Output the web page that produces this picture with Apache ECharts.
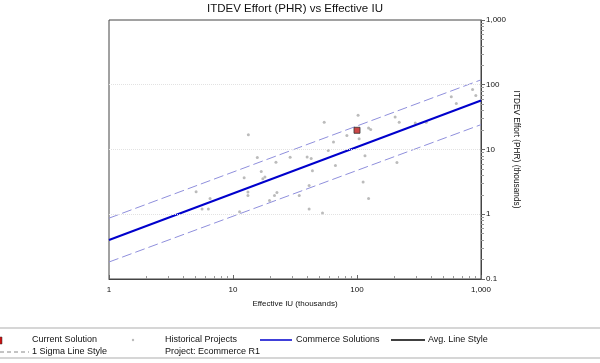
<!DOCTYPE html>
<html><head><meta charset="utf-8">
<script src="https://cdn.jsdelivr.net/npm/echarts@6/dist/echarts.min.js"></script>
<style>html,body{margin:0;padding:0;background:#fff}#c{width:600px;height:363px}</style>
</head><body><div id="c"></div>
<script>
const chartTitle = 'ITDEV Effort (PHR) vs Effective IU';
const xName = 'Effective IU (thousands)';
const yName = 'ITDEV Effort (PHR) (thousands)';
const xMajorTicks = [1, 10, 100, 1000];
const yMajorTicks = [0.1, 1, 10, 100, 1000];
const xMinorTicks = [2,3,4,5,6,7,8,9,20,30,40,50,60,70,80,90,200,300,400,500,600,700,800,900];
const yMinorTicks = [0.2,0.3,0.4,0.5,0.6,0.7,0.8,0.9,2,3,4,5,6,7,8,9,20,30,40,50,60,70,80,90,200,300,400,500,600,700,800,900];

const historicalIU = [5.04,5.63,6.33,6.53,11.3,12.3,13.2,13.2,13.3,15.7,16.9,17.4,18.1,19.7,21.6,22.6,22.2,28.9,34.2,39.6,42.7,41.1,41.1,43.7,52.7,54.4,58.6,64.6,67.0,82.9,102,104,112,116,124,124,129,203,219,210,295,362,576,632,855,908];
const historicalEffort = [2.22,1.20,1.20,1.75,1.09,3.66,2.20,1.95,16.9,7.55,4.58,3.53,3.75,1.63,1.95,2.17,6.36,7.6,1.95,7.65,7.26,2.78,1.20,4.70,1.05,26.3,9.68,13.1,5.68,16.5,33.7,14.7,3.14,8.02,1.75,21.5,20.3,31.8,26.3,6.31,25.7,26.3,65.0,51.2,84.3,68.1];
const currentIU = [100];
const currentEffort = [19.8];
const lineIU = [1, 1000];
const avgEffort = [0.40, 57];
const upperSigmaEffort = [0.87, 119];
const lowerSigmaEffort = [0.183, 24.2];

const legendRow1 = ['Current Solution', 'Historical Projects', 'Commerce Solutions', 'Avg. Line Style'];
const legendRow2 = ['1 Sigma Line Style', 'Project: Ecommerce R1'];

const pairs = (xs, ys) => xs.map((x, i) => [x, ys[i]]);
const fmt = v => Number(v).toLocaleString('en-US');
const FONT = '"Liberation Sans", Arial, sans-serif';
const SIGMA = '#8f8fdc';

const chart = echarts.init(document.getElementById('c'), null, {renderer: 'canvas'});
const axisLineStyle = {color: '#444', width: 1};
chart.setOption({
  animation: false,
  title: {text: chartTitle, left: 207, top: 3, padding: 0,
    textStyle: {fontFamily: FONT, fontSize: 11.5, fontWeight: 'normal', color: '#111'}},
  grid: {left: 109, right: 119, top: 20, bottom: 84, show: true, borderColor: '#444', borderWidth: 1, backgroundColor: 'transparent'},
  xAxis: [
    {type: 'log', min: 1, max: 1000, logBase: 10, name: xName, nameLocation: 'middle', nameGap: 21,
     nameTextStyle: {fontFamily: FONT, fontSize: 8, color: '#111'},
     axisLine: {lineStyle: axisLineStyle},
     axisTick: {show: true, inside: true, length: 4, lineStyle: {color: '#666'}, customValues: xMajorTicks},
     axisLabel: {fontFamily: FONT, fontSize: 8, color: '#111', margin: 7, formatter: fmt, customValues: xMajorTicks},
     splitLine: {show: false}},
    {type: 'log', min: 1, max: 1000, logBase: 10, position: 'bottom',
     axisLine: {show: false},
     axisTick: {show: true, inside: true, length: 3, lineStyle: {color: '#999'}, customValues: xMinorTicks},
     axisLabel: {show: false}, splitLine: {show: false}}
  ],
  yAxis: [
    {type: 'log', min: 0.1, max: 1000, logBase: 10, position: 'right', name: yName, nameLocation: 'middle',
     nameGap: 31, nameRotate: -90, nameMoveOverlap: false,
     nameTextStyle: {fontFamily: FONT, fontSize: 8.3, color: '#111'},
     axisLine: {show: true, lineStyle: axisLineStyle},
     axisTick: {show: true, inside: false, length: 4, lineStyle: {color: '#666'}, customValues: yMajorTicks},
     axisLabel: {fontFamily: FONT, fontSize: 8, color: '#111', margin: 5, formatter: fmt, customValues: yMajorTicks},
     splitLine: {show: false}},
    {type: 'log', min: 0.1, max: 1000, logBase: 10, position: 'right',
     axisLine: {show: false},
     axisTick: {show: true, inside: false, length: 3, lineStyle: {color: '#999'}, customValues: yMinorTicks},
     axisLabel: {show: false}, splitLine: {show: false}}
  ],
  series: [
    {name: 'Grid', type: 'line', data: [], markLine: {silent: true, symbol: 'none', label: {show: false},
      lineStyle: {color: '#e2e2e2', type: 'dotted', width: 1},
      data: yMajorTicks.slice(1, 4).map(v => ({yAxis: v}))}},
    {name: 'Historical Projects', type: 'scatter', data: pairs(historicalIU, historicalEffort),
     symbol: 'circle', symbolSize: 3, itemStyle: {color: '#aaaaaa'}, z: 3},
    {name: '1 Sigma Upper', type: 'line', data: pairs(lineIU, upperSigmaEffort), symbol: 'none',
     lineStyle: {color: SIGMA, width: 1, type: [10, 4]}, z: 2},
    {name: '1 Sigma Lower', type: 'line', data: pairs(lineIU, lowerSigmaEffort), symbol: 'none',
     lineStyle: {color: SIGMA, width: 1, type: [10, 4]}, z: 2},
    {name: 'Commerce Solutions', type: 'line', data: pairs(lineIU, avgEffort), symbol: 'none',
     lineStyle: {color: '#0000cc', width: 2}, z: 4},
    {name: 'Current Solution', type: 'scatter', data: pairs(currentIU, currentEffort),
     symbol: 'rect', symbolSize: 6, itemStyle: {color: '#c01818', borderColor: '#333', borderWidth: 1}, z: 5}
  ],
  graphic: [
    {type: 'line', shape: {x1: 0, y1: 328, x2: 600, y2: 328}, style: {stroke: '#c8c8c8', lineWidth: 1.5}},
    {type: 'line', shape: {x1: 0, y1: 358, x2: 600, y2: 358}, style: {stroke: '#c8c8c8', lineWidth: 1.5}},
    {type: 'rect', shape: {x: -5, y: 337, width: 7, height: 7}, style: {fill: '#cc1111', stroke: '#333', lineWidth: 0.5}},
    {type: 'text', x: 32, y: 340, style: {text: legendRow1[0], font: '9px ' + FONT, fill: '#111', textVerticalAlign: 'middle'}},
    {type: 'circle', shape: {cx: 133, cy: 340, r: 1.2}, style: {fill: '#bbb'}},
    {type: 'text', x: 165, y: 340, style: {text: legendRow1[1], font: '9px ' + FONT, fill: '#111', textVerticalAlign: 'middle'}},
    {type: 'line', shape: {x1: 260, y1: 340, x2: 292, y2: 340}, style: {stroke: '#0000cc', lineWidth: 1.5}},
    {type: 'text', x: 296, y: 340, style: {text: legendRow1[2], font: '9px ' + FONT, fill: '#111', textVerticalAlign: 'middle'}},
    {type: 'line', shape: {x1: 391, y1: 340, x2: 425, y2: 340}, style: {stroke: '#000', lineWidth: 1.5}},
    {type: 'text', x: 428, y: 340, style: {text: legendRow1[3], font: '9px ' + FONT, fill: '#111', textVerticalAlign: 'middle'}},
    {type: 'line', shape: {x1: 0, y1: 352, x2: 29, y2: 352}, style: {stroke: '#888', lineWidth: 1, lineDash: [4, 3]}},
    {type: 'text', x: 32, y: 352, style: {text: legendRow2[0], font: '9px ' + FONT, fill: '#111', textVerticalAlign: 'middle'}},
    {type: 'text', x: 165, y: 352, style: {text: legendRow2[1], font: '9px ' + FONT, fill: '#111', textVerticalAlign: 'middle'}}
  ]
});
</script></body></html>
